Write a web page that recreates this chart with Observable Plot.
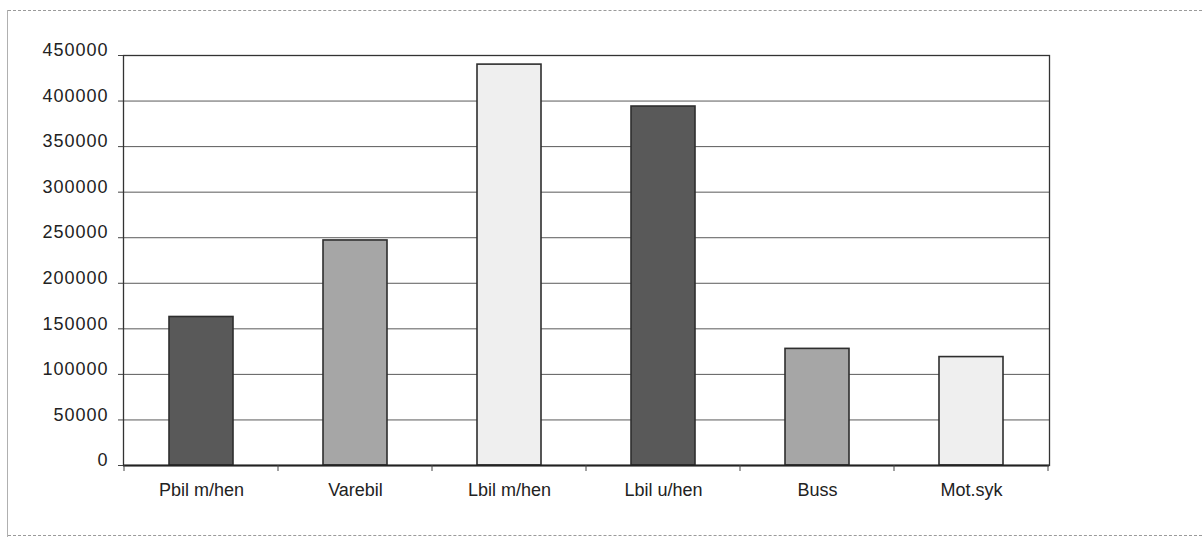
<!DOCTYPE html>
<html>
<head>
<meta charset="utf-8">
<script src="https://cdn.jsdelivr.net/npm/d3@7"></script>
<script src="https://cdn.jsdelivr.net/npm/@observablehq/plot@0.6"></script>
<style>
  html, body { margin: 0; padding: 0; background: #fff; }
  #wrap { position: relative; width: 1202px; height: 537px; overflow: hidden; }
  #wrap svg { position: absolute; left: 0; top: 0; }
  .edge-top { position: absolute; left: 8px; right: 0; top: 10px; border-top: 1px dashed #9a9a9a; }
  .edge-left { position: absolute; left: 7px; top: 10px; bottom: 0; border-left: 1px solid #b0b0b0; }
  .edge-bottom { position: absolute; left: 8px; right: 0; top: 535px; border-top: 1px dashed #9a9a9a; }
  #wrap svg g[aria-label="y-axis tick label"] text { letter-spacing: 1px; }
</style>
</head>
<body>
<div id="wrap">
  <div class="edge-top"></div>
  <div class="edge-left"></div>
  <div class="edge-bottom"></div>
</div>
<script>
const categories = ["Pbil m/hen", "Varebil", "Lbil m/hen", "Lbil u/hen", "Buss", "Mot.syk"];
const values = [163000, 247000, 440000, 394000, 128000, 119000];
const fills = ["#595959", "#a6a6a6", "#efefef", "#595959", "#a6a6a6", "#efefef"];
const yTicks = [0, 50000, 100000, 150000, 200000, 250000, 300000, 350000, 400000, 450000];

const data = categories.map((c, i) => ({cat: c, value: values[i], fill: fills[i]}));

const plot = Plot.plot({
  width: 1202,
  height: 537,
  marginLeft: 123,
  marginRight: 153,
  marginTop: 55,
  marginBottom: 72,
  style: {fontFamily: "'Liberation Sans', Arial, sans-serif", fontSize: "18px", color: "#222", background: "transparent"},
  x: {domain: categories, paddingInner: 0.585, paddingOuter: 0.2925, label: null},
  y: {domain: [0, 450000], label: null},
  marks: [
    Plot.gridY(yTicks, {stroke: "#5a5a5a", strokeOpacity: 1, strokeWidth: 1}),
    Plot.barY(data, {x: "cat", y: "value", fill: "fill", stroke: "#2e2e2e", strokeWidth: 1.6}),
    Plot.frame({stroke: "#333", strokeWidth: 1.3}),
    Plot.ruleY([0], {stroke: "#222", strokeWidth: 2}),
    Plot.axisY(yTicks, {tickSize: 5, tickFormat: () => "", label: null, stroke: "#444"}),
    Plot.axisY(yTicks, {tickSize: 0, tickPadding: 15, dy: -5, tickFormat: d => String(d), label: null}),
    Plot.axisX({tickSize: 0, tickPadding: 18, label: null})
  ]
});

// category boundary tick marks below the axis, placed from the band scale
const xs = plot.scale("x");
const ys = plot.scale("y");
const step = xs.step;
const y0 = ys.apply(0);
const first = xs.apply(categories[0]) - (step - xs.bandwidth) / 2;
const svg = d3.select(plot);
const g = svg.append("g").attr("stroke", "#444").attr("stroke-width", 1);
for (let i = 0; i <= categories.length; i++) {
  const x = first + i * step;
  g.append("line").attr("x1", x).attr("x2", x).attr("y1", y0).attr("y2", y0 + 6);
}

document.getElementById("wrap").appendChild(plot);
</script>
</body>
</html>
